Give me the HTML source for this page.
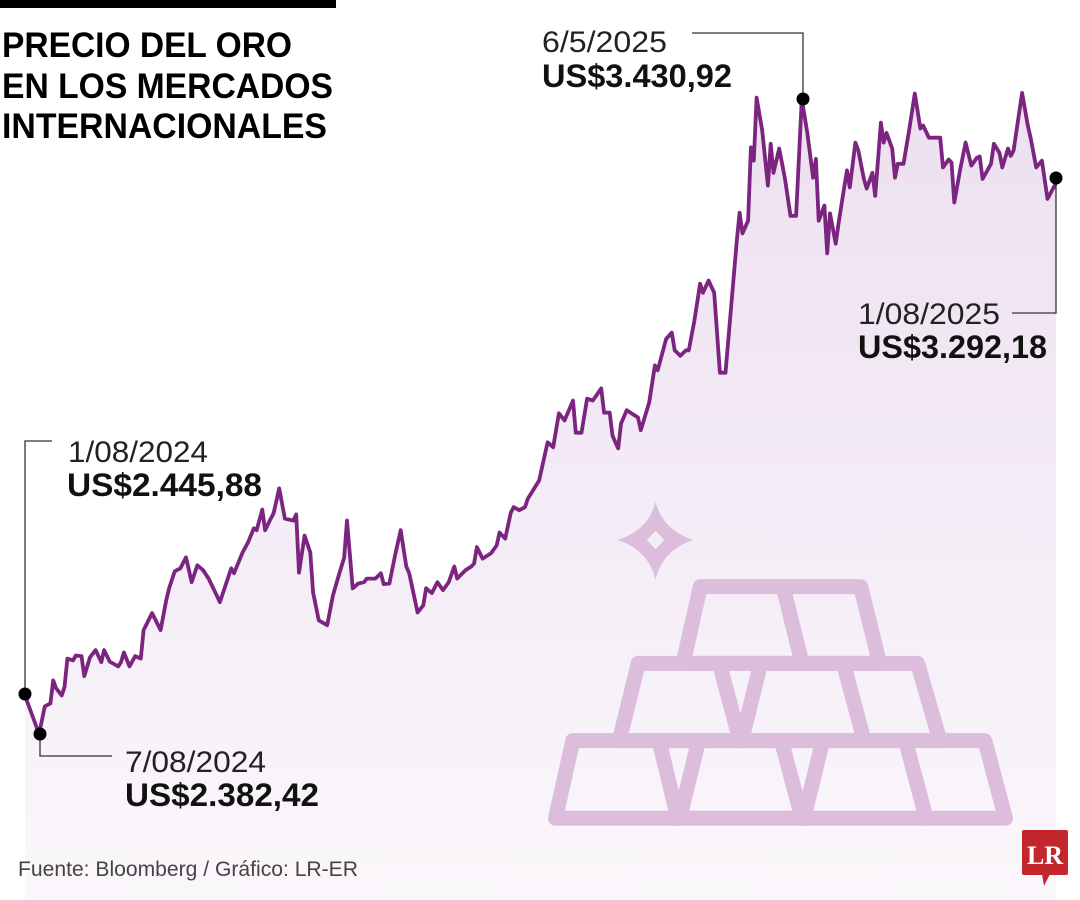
<!DOCTYPE html>
<html><head><meta charset="utf-8"><style>
html,body{margin:0;padding:0;background:#fff;}
svg{display:block;font-family:"Liberation Sans",sans-serif;}
</style></head><body>
<svg width="1080" height="900" viewBox="0 0 1080 900">
<defs>
<linearGradient id="fillg" x1="0" y1="0" x2="0" y2="1">
<stop offset="0" stop-color="#ede0f0"/><stop offset="1" stop-color="#faf7fb"/>
</linearGradient>
</defs>
<rect x="0" y="0" width="336" height="8" fill="#000"/>
<g font-weight="bold" font-size="35" fill="#000">
<text x="2" y="57" textLength="290" lengthAdjust="spacingAndGlyphs">PRECIO DEL ORO</text>
<text x="2" y="98" textLength="331" lengthAdjust="spacingAndGlyphs">EN LOS MERCADOS</text>
<text x="2" y="138" textLength="325" lengthAdjust="spacingAndGlyphs">INTERNACIONALES</text>
</g>
<path id="area" fill="url(#fillg)"/>
<g transform="translate(540,490) scale(0.3448,0.3333)" fill="none" stroke="#dcbedc" stroke-linejoin="round" stroke-linecap="round">
<path vector-effect="non-scaling-stroke" stroke-width="15" d="M95,752 L1290,752 L1350,985 L45,985 Z"/>
<path vector-effect="non-scaling-stroke" stroke-width="15" d="M285,520 L1095,520 L1160,752 L230,752 Z"/>
<path vector-effect="non-scaling-stroke" stroke-width="15" d="M465,290 L930,290 L985,520 L415,520 Z"/>
<path vector-effect="non-scaling-stroke" stroke-width="15" d="M705,290 L760,520 M520,520 L580,752 M640,520 L585,752 M880,520 L940,752 M345,752 L400,985 M460,752 L405,985 M700,752 L760,985 M820,752 L765,985 M1060,752 L1120,985"/>
<path fill="#dcbedc" stroke="none" d="M335,35 Q355,120 445,150 Q355,180 335,270 Q315,180 225,150 Q315,120 335,35 Z M335,122 L310,150 L335,178 L360,150 Z" fill-rule="evenodd"/>
</g>
<path id="line" fill="none" stroke="#7b2580" stroke-width="3.8" stroke-linejoin="round"/>
<g id="annot" stroke="#333" stroke-width="1.3" fill="none">
<polyline points="25,694 25,441 52,441"/>
<polyline points="40,734 40,756 112,756"/>
<polyline points="803,99 803,33 692,33"/>
<polyline points="1056,178 1056,313 1012,313"/>
</g>
<g fill="#000">
<circle cx="25" cy="694" r="6.5"/>
<circle cx="40" cy="734" r="6.5"/>
<circle cx="803" cy="99" r="6.5"/>
<circle cx="1056" cy="178" r="6.5"/>
</g>
<g fill="#111">
<text x="68" y="462" font-size="30" fill="#222" textLength="140" lengthAdjust="spacingAndGlyphs">1/08/2024</text>
<text x="67" y="496" font-size="32" font-weight="bold" textLength="195" lengthAdjust="spacingAndGlyphs">US$2.445,88</text>
<text x="125" y="772" font-size="30" fill="#222" textLength="141" lengthAdjust="spacingAndGlyphs">7/08/2024</text>
<text x="125" y="806" font-size="32" font-weight="bold" textLength="194" lengthAdjust="spacingAndGlyphs">US$2.382,42</text>
<text x="542" y="52" font-size="30" fill="#222" textLength="125" lengthAdjust="spacingAndGlyphs">6/5/2025</text>
<text x="542" y="87" font-size="32" font-weight="bold" textLength="190" lengthAdjust="spacingAndGlyphs">US$3.430,92</text>
<text x="858" y="324" font-size="30" fill="#222" textLength="142" lengthAdjust="spacingAndGlyphs">1/08/2025</text>
<text x="858" y="358" font-size="32" font-weight="bold" textLength="189" lengthAdjust="spacingAndGlyphs">US$3.292,18</text>
</g>
<text x="18" y="876" font-size="21" fill="#444" textLength="340" lengthAdjust="spacingAndGlyphs">Fuente: Bloomberg / Gráfico: LR-ER</text>
<g>
<rect x="1022" y="830" width="46" height="45" rx="2" fill="#c4262e"/>
<path d="M1042,874 L1050,874 L1044,886 Z" fill="#c4262e"/>
<text x="1045" y="864" font-family="Liberation Serif,serif" font-weight="bold" font-size="26" fill="#fff" text-anchor="middle">LR</text>
</g>
</svg>
<script>
const days=[0,5,7,9,10,11,13,14,15,17,18,20,21,23,25,27,28,30,33,34,35,37,39,41,42,45,48,50,51,53,55,57,59,61,63,65,68,69,73,74,77,79,81,82,84,85,87,88,90,92,95,96,97,99,101,102,104,107,109,111,113,114,116,118,120,121,124,126,127,129,131,133,135,136,139,141,142,144,146,148,150,152,153,156,158,159,160,162,165,167,168,170,172,173,175,177,178,182,185,187,189,191,194,195,197,199,201,204,205,207,208,210,211,213,217,218,221,223,224,227,229,230,232,234,235,237,239,240,242,244,246,248,252,253,254,256,257,258,259,261,263,264,265,267,269,271,273,275,277,279,280,281,283,284,285,287,288,290,291,292,294,295,297,298,300,301,303,304,305,307,308,309,311,313,315,317,318,320,322,324,325,327,328,329,331,333,335,337,338,339,342,343,345,346,348,349,350,353,355,356,358,360,362,365];
const prices=[2445.88,2382.42,2428,2433,2471,2458,2446,2460,2507,2504,2512,2511,2478,2509,2521,2501,2521,2502,2494,2501,2517,2494,2511,2507,2554,2582,2554,2603,2623,2651,2656,2674,2633,2661,2653,2639,2610,2600,2656,2648,2682,2699,2722,2719,2753,2719,2738,2747,2788,2738,2735,2745,2649,2710,2682,2616,2570,2562,2611,2643,2674,2735,2623,2631,2633,2639,2639,2648,2630,2631,2677,2719,2659,2648,2583,2595,2623,2615,2633,2620,2633,2659,2639,2653,2659,2664,2691,2672,2681,2694,2715,2705,2748,2757,2752,2757,2771,2801,2864,2856,2912,2900,2933,2880,2880,2936,2933,2953,2913,2913,2875,2854,2895,2917,2905,2884,2930,2991,2983,3035,3045,3016,3007,3016,3016,3065,3126,3111,3131,3111,2979,2979,3197,3243,3209,3230,3351,3329,3433,3379,3288,3357,3309,3349,3301,3238,3238,3430.92,3374,3301,3332,3230,3255,3176,3242,3192,3225,3285,3313,3285,3359,3346,3299,3283,3309,3271,3392,3359,3375,3349,3301,3324,3324,3379,3440,3382,3387,3367,3367,3367,3318,3331,3326,3260,3313,3359,3321,3334,3336,3299,3324,3357,3342,3318,3349,3337,3346,3441,3387,3367,3318,3329,3266,3292.18];
function xScale(d){return 25+d*(1056-25)/365;}
function yScale(v){return 734-(v-2382.42)*(734-99)/(3430.92-2382.42);}
let d='';
for(let i=0;i<days.length;i++){d+=(i?'L':'M')+xScale(days[i]).toFixed(1)+','+yScale(prices[i]).toFixed(1);}
document.getElementById('line').setAttribute('d',d);
const last=days.length-1;
document.getElementById('area').setAttribute('d',d+'L'+xScale(days[last]).toFixed(1)+',900L'+xScale(days[0]).toFixed(1)+',900Z');
</script>
</body></html>
